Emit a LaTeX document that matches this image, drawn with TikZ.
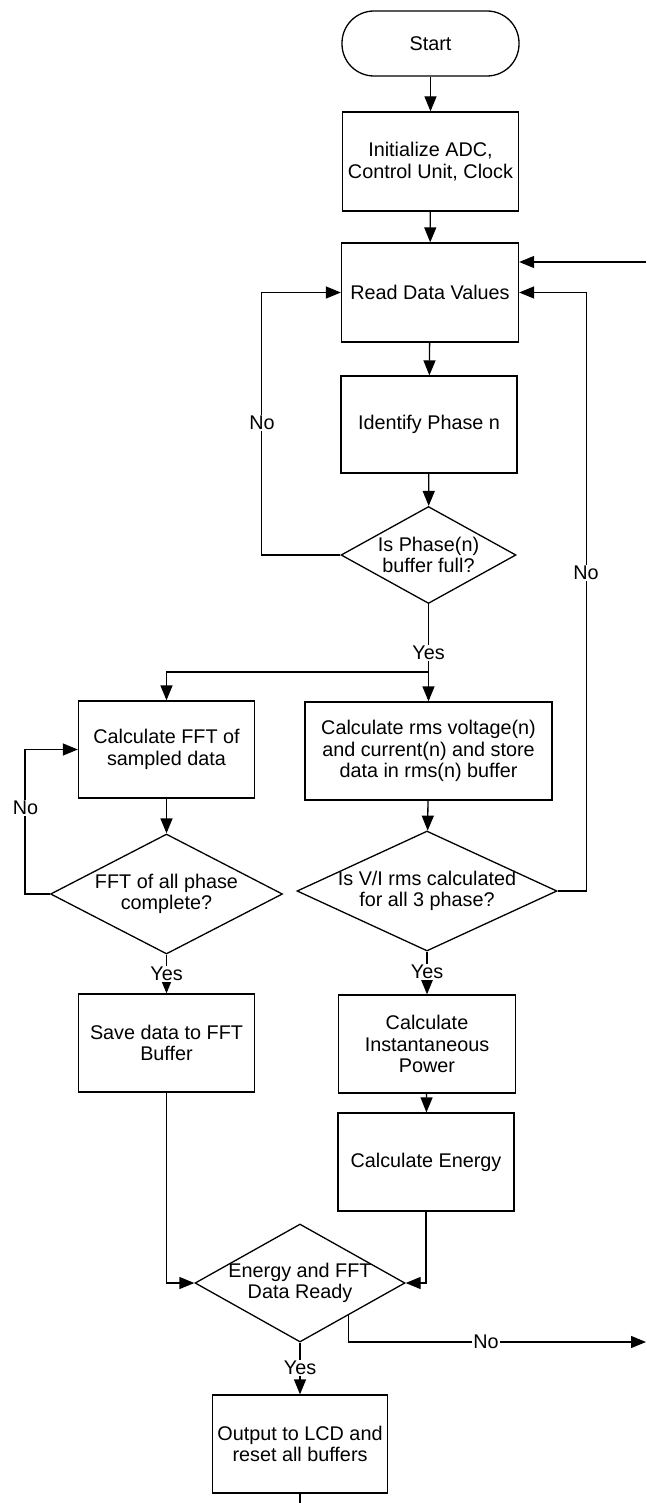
\documentclass[tikz,border=0pt]{standalone}
\usepackage{fontspec}
\setmainfont{Liberation Sans}
\usetikzlibrary{arrows.meta,shapes.geometric,calc}

\begin{document}
\begin{tikzpicture}[x=1pt,y=-1pt,
  line width=1.3pt,
  txt/.style={font=\fontsize{19.8}{21.7}\selectfont, align=center},
  box/.style={txt, draw, rectangle, inner sep=0pt},
  term/.style={box, rounded corners=32pt},
  decision/.style={draw, diamond, inner sep=0pt, shape aspect=1},
  flow/.style={-{Triangle[length=15pt,width=12pt]}},
  lbl/.style={txt, fill=white, inner sep=1.5pt}]

\useasboundingbox (0,0) rectangle (646,1503);

% process boxes
\node[term, minimum width=177pt, minimum height=65pt] (start) at (430.5,43.5) {Start};
\node[box, minimum width=176pt, minimum height=99pt] (init) at (430.5,161.5) {Initialize ADC,\\Control Unit, Clock};
\node[box, minimum width=177pt, minimum height=99pt] (read) at (430,292.5) {Read Data Values};
\node[box, minimum width=176pt, minimum height=97pt] (ident) at (429,424.5) {Identify Phase n};
\node[decision, minimum width=175pt, minimum height=97pt,
      label={[txt]center:Is Phase(n)\\buffer full?}] (d1) at (428.5,555) {};

\node[box, minimum width=176pt, minimum height=97pt] (fft) at (166.5,749.5) {Calculate FFT of\\sampled data};
\node[box, minimum width=247pt, minimum height=98pt] (rms) at (428.5,751) {Calculate rms voltage(n)\\and current(n) and store\\data in rms(n) buffer};

\node[decision, minimum width=232pt, minimum height=120pt,
      label={[txt]center:FFT of all phase\\complete?}] (dfft) at (166.5,894) {};
\node[decision, minimum width=260pt, minimum height=120pt,
      label={[txt]center:Is V/I rms calculated\\for all 3 phase?}] (dvi) at (427,891) {};

\node[box, minimum width=175.5pt, minimum height=98pt] (save) at (166.5,1043) {Save data to FFT\\Buffer};
\node[box, minimum width=177pt, minimum height=98pt] (inst) at (427,1044) {Calculate\\Instantaneous\\Power};
\node[box, minimum width=176pt, minimum height=98pt] (energy) at (426,1162) {Calculate Energy};

\node[decision, minimum width=210pt, minimum height=118pt,
      label={[txt]center:Energy and FFT\\Data Ready}] (dfin) at (300,1283) {};
\node[box, minimum width=175.5pt, minimum height=98pt] (out) at (300,1444) {Output to LCD and\\reset all buffers};

% off-page ends of the outer loop
\coordinate (loopin) at (646,262);
\coordinate (loopout) at (646,1342);
\coordinate (bottomexit) at (300,1503);
\coordinate (split) at (428.5,672);
\coordinate (finno) at ($(dfin.south)!0.457!(dfin.east)$);

% main flow
\draw[flow] (start) -- (init);
\draw[flow] (init) -- (read);
\draw[flow] (read) -- (ident);
\draw[flow] (ident) -- (d1);
\draw (d1.south) -- (split);
\draw[flow] (split) -- (rms.north);
\draw[flow] (split) -| (fft.north);
\node[lbl] (yes1) at (428.5,653) {Yes};

% phase buffer not full
\draw[flow] (d1.west) -- ++(-79,0) |- (read.west);
\node[lbl] (no1) at (262,423) {No};

% FFT branch
\draw[flow] (fft) -- (dfft);
\draw[flow] (dfft.west) -- ++(-25,0) |- (fft.west);
\node[lbl] (no2) at (25.5,808) {No};
\draw[flow] (dfft.south) -- (save.north);
\node[lbl] (yes2) at (166.5,974) {Yes};
\draw[flow] (save.south) |- (dfin.west);

% rms branch
\draw[flow] (rms) -- (dvi);
\draw[flow] (dvi.east) -- ++(29,0) |- (read.east);
\node[lbl] (no3) at (586,573) {No};
\draw[flow] (dvi.south) -- (inst.north);
\node[lbl] (yes3) at (427,972) {Yes};
\draw[flow] (inst) -- (energy);
\draw[flow] (energy.south) |- (dfin.east);

% final decision
\draw[flow] (dfin.south) -- (out.north);
\node[lbl] (yes4) at (300,1368) {Yes};
\draw[flow] (finno) |- (loopout);
\node[lbl] (no4) at (486,1342) {No};
\draw (out.south) -- (bottomexit);
\draw[flow] (loopin) -- (loopin -| read.east);

\end{tikzpicture}
\end{document}
